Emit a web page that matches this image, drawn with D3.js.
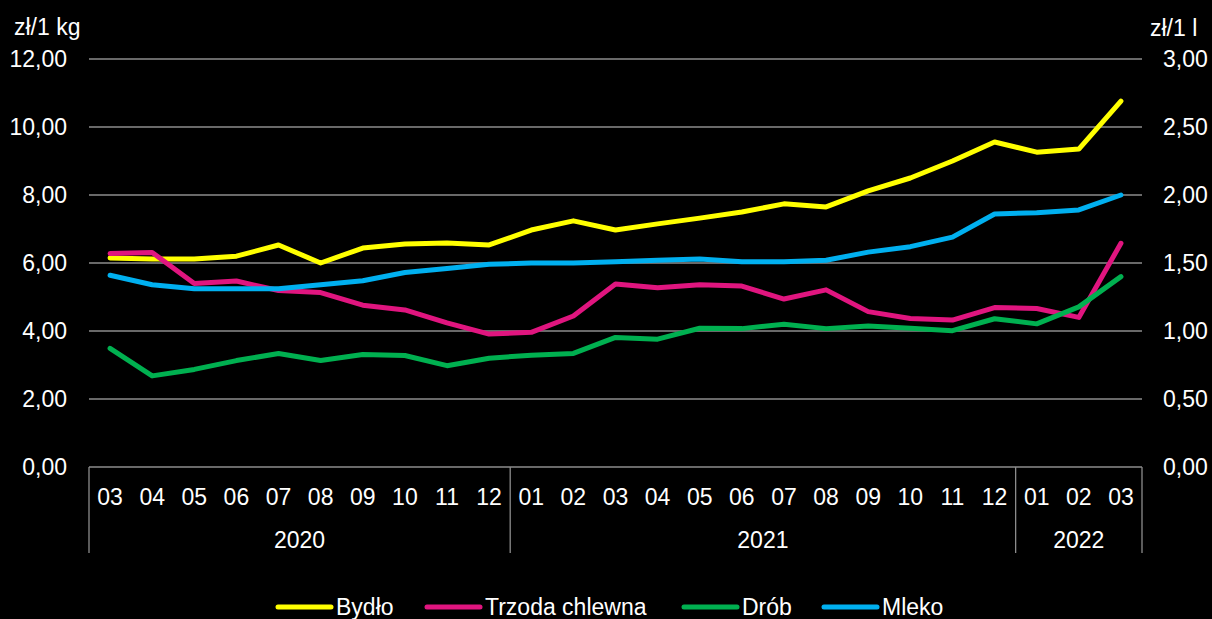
<!DOCTYPE html>
<meta charset="utf-8">
<style>
body { margin: 0; background: #000; }
svg { display: block; font-family: "Liberation Sans", Arial, sans-serif; }
.grid line { stroke: #8c8c8c; stroke-width: 1.3; }
.tick-label { fill: #fff; font-size: 23px; }
.series { fill: none; stroke-width: 5; stroke-linejoin: round; stroke-linecap: round; }
</style>
<body>
<script src="https://cdn.jsdelivr.net/npm/d3@7"></script>
<script>

// data
var months = ["03","04","05","06","07","08","09","10","11","12",
              "01","02","03","04","05","06","07","08","09","10","11","12",
              "01","02","03"];
var years = [{label: "2020", n: 10}, {label: "2021", n: 12}, {label: "2022", n: 3}];
var leftTicks = [0, 2, 4, 6, 8, 10, 12];
var rightTicks = [0, 0.5, 1, 1.5, 2, 2.5, 3];

var bydlo  = [6.15,6.12,6.12,6.20,6.53,6.00,6.44,6.56,6.59,6.53,6.97,7.24,6.97,7.15,7.32,7.50,7.74,7.65,8.12,8.50,9.00,9.56,9.26,9.35,10.76];
var trzoda = [6.28,6.31,5.40,5.47,5.19,5.13,4.76,4.62,4.24,3.91,3.96,4.44,5.38,5.27,5.36,5.32,4.94,5.21,4.57,4.37,4.32,4.69,4.66,4.40,6.58];
var drob   = [3.49,2.68,2.87,3.13,3.34,3.13,3.31,3.28,2.98,3.20,3.29,3.34,3.81,3.76,4.08,4.07,4.20,4.07,4.15,4.08,4.01,4.36,4.21,4.71,5.60];
var mleko  = [1.41,1.34,1.31,1.31,1.31,1.34,1.37,1.43,1.46,1.49,1.50,1.50,1.51,1.52,1.53,1.51,1.51,1.52,1.58,1.62,1.69,1.86,1.87,1.89,2.00];

var series = [
  {name: "Bydło", values: bydlo, color: "#ffff00", axis: "left"},
  {name: "Trzoda chlewna", values: trzoda, color: "#e0157f", axis: "left"},
  {name: "Drób", values: drob, color: "#00b050", axis: "left"},
  {name: "Mleko", values: mleko, color: "#00b0f0", axis: "right"}
];

var W = 1212, H = 619;
var plotLeft = 89, plotRight = 1142, plotTop = 59, plotBottom = 467;

var svg = d3.select("body").append("svg")
    .attr("width", W)
    .attr("height", H)
    .style("background", "#000");

var x = d3.scaleBand()
    .domain(d3.range(months.length))
    .range([plotLeft, plotRight])
    .padding(0);
var yL = d3.scaleLinear().domain([0, 12]).range([plotBottom, plotTop]);
var yR = d3.scaleLinear().domain([0, 3]).range([plotBottom, plotTop]);

// gridlines
svg.append("g").attr("class", "grid")
  .selectAll("line")
  .data(leftTicks)
  .enter().append("line")
    .attr("x1", plotLeft).attr("x2", plotRight)
    .attr("y1", function(d) { return yL(d); })
    .attr("y2", function(d) { return yL(d); });

var fmt = function(v) { return d3.format(".2f")(v).replace(".", ","); };

// left axis labels
svg.append("g").selectAll("text")
  .data(leftTicks)
  .enter().append("text")
    .attr("class", "tick-label")
    .attr("x", 67)
    .attr("y", function(d) { return yL(d); })
    .attr("dy", "0.35em")
    .attr("text-anchor", "end")
    .text(fmt);

// right axis labels
svg.append("g").selectAll("text")
  .data(rightTicks)
  .enter().append("text")
    .attr("class", "tick-label")
    .attr("x", 1163)
    .attr("y", function(d) { return yR(d); })
    .attr("dy", "0.35em")
    .text(fmt);

svg.append("text").attr("class", "tick-label")
    .attr("x", 14).attr("y", 35).text("zł/1 kg");
svg.append("text").attr("class", "tick-label")
    .attr("x", 1150).attr("y", 36).text("zł/1 l");

// month labels
svg.append("g").selectAll("text")
  .data(months)
  .enter().append("text")
    .attr("class", "tick-label")
    .attr("x", function(d, i) { return x(i) + x.bandwidth() / 2; })
    .attr("y", 497)
    .attr("dy", "0.35em")
    .attr("text-anchor", "middle")
    .text(function(d) { return d; });

// year groups
var start = 0;
var bounds = [0];
years.forEach(function(yr) {
  yr.start = start;
  start += yr.n;
  bounds.push(start);
});

svg.append("g").attr("class", "grid")
  .selectAll("line")
  .data(bounds)
  .enter().append("line")
    .attr("x1", function(d) { return d < months.length ? x(d) : plotRight; })
    .attr("x2", function(d) { return d < months.length ? x(d) : plotRight; })
    .attr("y1", plotBottom)
    .attr("y2", 553);

svg.append("g").selectAll("text")
  .data(years)
  .enter().append("text")
    .attr("class", "tick-label")
    .attr("x", function(d) { return x(d.start) + x.bandwidth() * d.n / 2; })
    .attr("y", 540)
    .attr("dy", "0.35em")
    .attr("text-anchor", "middle")
    .text(function(d) { return d.label; });

// lines
series.forEach(function(s) {
  var y = s.axis === "left" ? yL : yR;
  var line = d3.line()
    .x(function(d, i) { return x(i) + x.bandwidth() / 2; })
    .y(function(d) { return y(d); });
  svg.append("path")
    .datum(s.values)
    .attr("class", "series")
    .attr("stroke", s.color)
    .attr("d", line);
});

// legend
var legendX = [278, 427, 684, 824];
var lg = svg.append("g").selectAll("g")
  .data(series)
  .enter().append("g")
    .attr("transform", function(d, i) { return "translate(" + legendX[i] + ",607)"; });
lg.append("line")
    .attr("x1", 0).attr("x2", 53)
    .attr("stroke", function(d) { return d.color; })
    .attr("stroke-width", 5)
    .attr("stroke-linecap", "round");
lg.append("text")
    .attr("class", "tick-label")
    .attr("x", 58)
    .attr("dy", "0.35em")
    .text(function(d) { return d.name; });

</script>
</body>
